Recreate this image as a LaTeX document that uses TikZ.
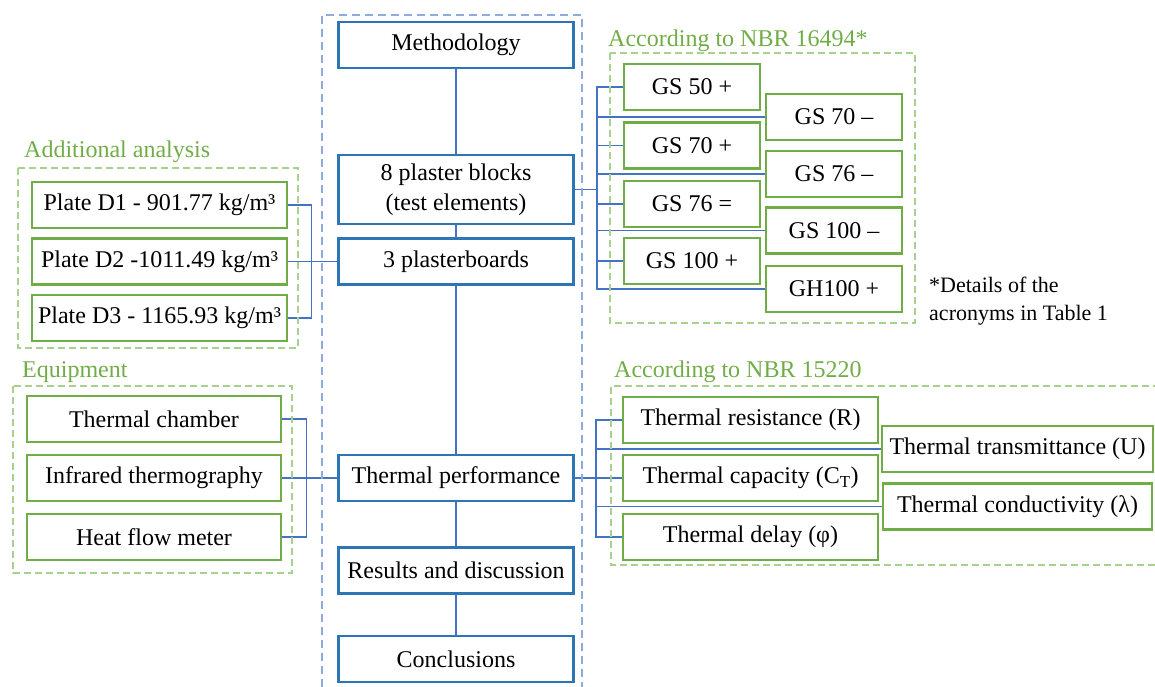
\documentclass[tikz,border=0pt]{standalone}
\usepackage{fontspec}
\setmainfont{Liberation Serif}
\usetikzlibrary{backgrounds}
\definecolor{boxblue}{HTML}{2E75B6}
\definecolor{lineblue}{HTML}{4472C4}
\definecolor{dashblue}{HTML}{8FAADC}
\definecolor{boxgreen}{HTML}{70AD47}
\definecolor{dashgreen}{HTML}{A9D18E}
\begin{document}
\begin{tikzpicture}[x=1pt,y=-1pt,
    every node/.style={font=\fontsize{24}{28}\selectfont,inner sep=0pt},
    mainbox/.style={draw=boxblue,line width=2.9pt,fill=white,minimum width=235pt,minimum height=46pt},
    subbox/.style={draw=boxgreen,line width=2.9pt,fill=white,minimum height=46pt},
    link/.style={draw=lineblue,line width=1.4pt},
    group/.style={draw=dashgreen,line width=1.4pt,dash pattern=on 7pt off 4pt},
    grouplabel/.style={text=boxgreen,anchor=base west}]
      \useasboundingbox (0,0) rectangle (1155,687);
      % main column
      \draw[draw=dashblue,line width=2.4pt,dash pattern=on 8pt off 5pt] (322,700) -- (322,15) -- (582,15) -- (582,700);
      \node[mainbox] (meth) at (456,45) {Methodology};
      \node[mainbox,minimum height=69pt,align=center,font=\fontsize{24}{30}\selectfont] (blocks) at (456,189.5) {8 plaster blocks\\(test elements)};
      \node[mainbox] (boards) at (456,261.5) {3 plasterboards};
      \node[mainbox] (perf) at (456,478) {Thermal performance};
      \node[mainbox] (results) at (456,570.5) {Results and discussion};
      \node[mainbox] (concl) at (456,659) {Conclusions};
      % additional analysis
      \draw[group] (18,168) rectangle (298,348);
      \node[grouplabel] (addlabel) at (24,158) {Additional analysis};
      \node[subbox,minimum width=255pt] (d1) at (159.5,205) {Plate D1 - 901.77 kg/m³};
      \node[subbox,minimum width=255pt] (d2) at (159.5,261.5) {Plate D2 -1011.49 kg/m³};
      \node[subbox,minimum width=255pt] (d3) at (159.5,318) {Plate D3 - 1165.93 kg/m³};
      % equipment
      \draw[group] (13,386) rectangle (292,573);
      \node[grouplabel] (equiplabel) at (22,377) {Equipment};
      \node[subbox,minimum width=254pt] (chamber) at (154,419) {Thermal chamber};
      \node[subbox,minimum width=254pt] (infra) at (154,478) {Infrared thermography};
      \node[subbox,minimum width=254pt] (heat) at (154,537) {Heat flow meter};
      % NBR 16494
      \draw[group] (610,53) rectangle (915,323);
      \node[grouplabel] (nbralabel) at (608,47) {According to NBR 16494*};
      \node[subbox,minimum width=136pt] (gs50p) at (692,87) {GS 50 +};
      \node[subbox,minimum width=136pt] (gs70p) at (692,145.5) {GS 70 +};
      \node[subbox,minimum width=136pt] (gs76e) at (692,204) {GS 76 =};
      \node[subbox,minimum width=136pt] (gs100p) at (692,261) {GS 100 +};
      \node[subbox,minimum width=136pt] (gs70m) at (834,117) {GS 70 –};
      \node[subbox,minimum width=136pt] (gs76m) at (834,174) {GS 76 –};
      \node[subbox,minimum width=136pt] (gs100m) at (834,230.5) {GS 100 –};
      \node[subbox,minimum width=136pt] (gh100p) at (834,289) {GH100 +};
      \node[anchor=base west,font=\fontsize{22}{26}\selectfont] (notea) at (929,292) {*Details of the};
      \node[anchor=base west,font=\fontsize{22}{26}\selectfont] (noteb) at (929,320) {acronyms in Table 1};
      % NBR 15220
      \draw[group] (1160,386) -- (611,386) -- (611,565) -- (1160,565);
      \node[grouplabel] (nbrblabel) at (614,377) {According to NBR 15220};
      \node[subbox,minimum width=255pt] (resist) at (750.5,420) {Thermal resistance (R)};
      \node[subbox,minimum width=255pt] (capac) at (750.5,478) {Thermal capacity (C\textsubscript{T})};
      \node[subbox,minimum width=255pt] (delay) at (750.5,537) {Thermal delay (φ)};
      \node[subbox,minimum width=271pt] (transm) at (1017.5,449) {Thermal transmittance (U)};
      \node[subbox,minimum width=269pt] (conduc) at (1017.5,506.5) {Thermal conductivity (λ)};
      % connectors
      \coordinate (gsbar) at (597,0);
      \coordinate (nbrbar) at (596,0);
      \begin{scope}[on background layer]
        \draw[link] (meth) -- (blocks) -- (boards) -- (perf) -- (results) -- (concl);
        \draw[link] (d1.east) -- ++(23,0) |- (d3.east);
        \draw[link] (d2.east) -- (boards.west);
        \draw[link] (chamber.east) -- ++(24,0) |- (heat.east);
        \draw[link] (infra.east) -- (perf.west);
        \draw[link] (gs50p.west) -- (gs50p.west -| gsbar) |- (gh100p.west);
        \foreach \n in {gs70m,gs70p,gs76m,gs76e,gs100m,gs100p}
          \draw[link] (\n.west -| gsbar) -- (\n.west);
        \draw[link] (blocks.east) -- (blocks.east -| gsbar);
        \draw[link] (resist.west) -- (resist.west -| nbrbar) |- (delay.west);
        \foreach \n in {capac,transm,conduc}
          \draw[link] (\n.west -| nbrbar) -- (\n.west);
        \draw[link] (perf.east) -- (perf.east -| nbrbar);
      \end{scope}
    \end{tikzpicture}
\end{document}
